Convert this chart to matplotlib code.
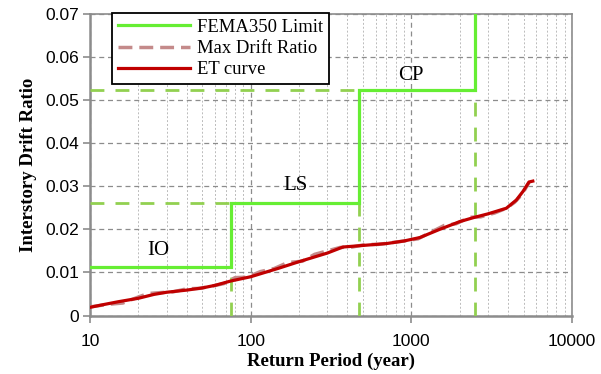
import matplotlib

matplotlib.use("Agg")

import matplotlib.pyplot as plt
from matplotlib.ticker import FixedLocator, LogLocator, NullFormatter

SERIF = ["Liberation Serif", "DejaVu Serif"]
SANS = ["Liberation Sans", "DejaVu Sans"]

LIMIT_GREEN = "#66EE33"
GUIDE_GREEN = "#92D050"
ET_RED = "#C00000"
MAX_PINK = "#C48A8A"

# FEMA350 limit states
limit_names = ["IO", "LS", "CP"]
limit_periods = [75, 475, 2475]
limit_drifts = [0.0113, 0.0261, 0.0524]

# ET curve
et_period = [10, 12, 15, 20, 25, 30, 40, 50, 60, 75, 100, 150, 200, 300, 375,
             475, 700, 900, 1130, 1500, 2000, 2475, 3000, 3900, 4500, 4950, 5400, 5700]
et_drift = [0.0019, 0.0025, 0.0032, 0.0040, 0.0049, 0.0054, 0.0059, 0.0064, 0.0070,
            0.0080, 0.0090, 0.0110, 0.0125, 0.0145, 0.0159, 0.0162, 0.0167, 0.0173,
            0.0181, 0.0200, 0.0218, 0.0228, 0.0236, 0.0249, 0.0268, 0.0288, 0.0310, 0.0312]

# Max drift ratio (from analyses)
md_period = [10, 13, 16, 20, 23, 27, 33, 40, 48, 57, 68, 80, 95, 115, 140, 170, 210,
             250, 300, 360, 430, 520, 620, 750, 900, 1100, 1300, 1600, 1900, 2300,
             2700, 3300, 3900, 4400, 4900, 5400]
md_drift = [0.0020, 0.0026, 0.0029, 0.0043, 0.0051, 0.0053, 0.0055, 0.0062, 0.0063,
            0.0068, 0.0074, 0.0088, 0.0089, 0.0102, 0.0109, 0.0123, 0.0126, 0.0142,
            0.0150, 0.0158, 0.0159, 0.0165, 0.0165, 0.0169, 0.0173, 0.0178, 0.0192,
            0.0209, 0.0213, 0.0228, 0.0229, 0.0238, 0.0249, 0.0263, 0.0282, 0.0309]

fig = plt.figure(figsize=(6.01, 3.74), dpi=100, facecolor="white")
ax = fig.add_axes([0.1498, 0.1564, 0.802, 0.8062])

ax.set_xscale("log")
ax.set_xlim(10, 10000)
ax.set_ylim(0, 0.07)

# grid
ax.xaxis.set_minor_locator(LogLocator(base=10, subs=range(2, 10)))
ax.xaxis.set_minor_formatter(NullFormatter())
ax.grid(True, which="major", color="#8C8C8C", linestyle=(0, (4, 3)), linewidth=0.9)
ax.grid(True, which="minor", axis="x", color="#BBBBBB", linestyle=(0, (2, 2)), linewidth=0.7)
ax.set_axisbelow(True)

# FEMA350 step line
step_x = [10]
step_y = [limit_drifts[0]]
for i, (p, d) in enumerate(zip(limit_periods, limit_drifts)):
    nxt = limit_drifts[i + 1] if i + 1 < len(limit_drifts) else 0.07
    step_x += [p, p]
    step_y += [d, nxt]
ax.plot(step_x, step_y, color=LIMIT_GREEN, linewidth=2.3, solid_joinstyle="miter",
        label="FEMA350 Limit", zorder=4)

# dashed guides down to the axis and across to the y axis
guide = dict(color=GUIDE_GREEN, linewidth=2.0, linestyle=(0, (5, 4)), zorder=3)
for i, (p, d) in enumerate(zip(limit_periods, limit_drifts)):
    ax.plot([p, p], [0, d], **guide)
    if i > 0:
        ax.plot([10, limit_periods[i - 1]], [d, d], **guide)

ax.plot(md_period, md_drift, color=MAX_PINK, linewidth=2.5, linestyle=(0, (4, 2)),
        label="Max Drift Ratio", zorder=5)
ax.plot(et_period, et_drift, color=ET_RED, linewidth=2.3, label="ET curve", zorder=6)

# limit state names
label_pos = [(26.5, 0.0152), (190, 0.0302), (1000, 0.0557)]
for name, (px, py) in zip(limit_names, label_pos):
    ax.text(px, py, name, ha="center", va="center", fontsize=15, family=SERIF, zorder=7)

ax.set_yticks([0, 0.01, 0.02, 0.03, 0.04, 0.05, 0.06, 0.07])
ax.set_yticklabels(["0", "0.01", "0.02", "0.03", "0.04", "0.05", "0.06", "0.07"])
ax.xaxis.set_major_locator(FixedLocator([10, 100, 1000, 10000]))
ax.set_xticklabels(["10", "100", "1000", "10000"])
for lab in ax.get_xticklabels() + ax.get_yticklabels():
    lab.set_family(SANS)
    lab.set_fontsize(12.5)

ax.tick_params(axis="both", which="major", direction="out", length=5, width=1.2,
               color="#8C8C8C", pad=3)
ax.tick_params(axis="x", which="major", pad=8)
ax.tick_params(axis="x", which="minor", length=0)

for spine in ax.spines.values():
    spine.set_color("#8C8C8C")
    spine.set_linewidth(1.2)
ax.spines["left"].set_linewidth(1.8)
ax.spines["bottom"].set_linewidth(1.8)

ax.set_xlabel("Return Period (year)", fontsize=13.5, fontweight="bold", family=SERIF, labelpad=3)
ax.set_ylabel("Interstory Drift Ratio", fontsize=13.5, fontweight="bold", family=SERIF, labelpad=6)

leg = ax.legend(loc="upper left", bbox_to_anchor=(0.046, 1.002), fancybox=False,
                framealpha=1, edgecolor="black", prop={"family": SERIF, "size": 13.4},
                handlelength=3.9, borderpad=0.3, labelspacing=0.22, handletextpad=0.35,
                borderaxespad=0)
leg.get_frame().set_linewidth(1.3)
leg.set_zorder(10)

fig.savefig("out.png", dpi=100, facecolor="white")
